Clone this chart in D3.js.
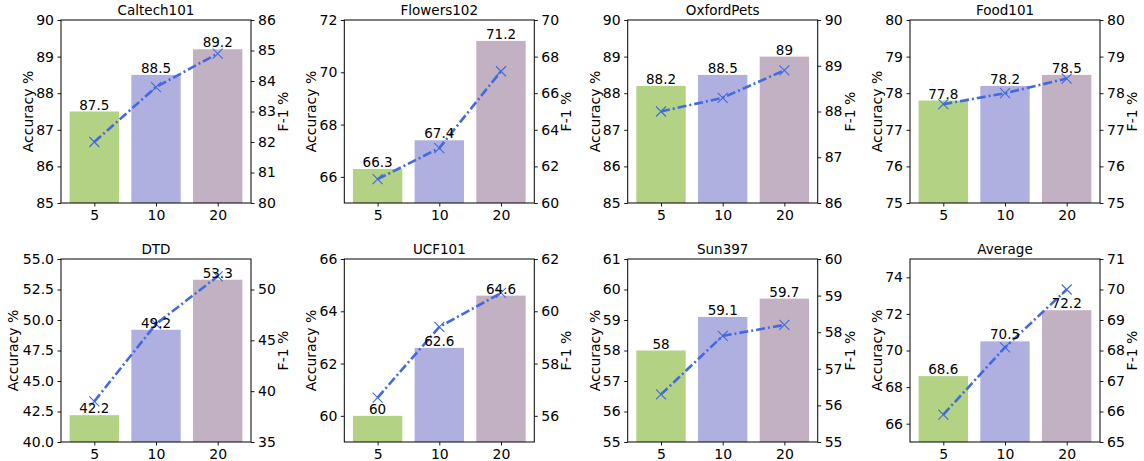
<!DOCTYPE html>
<html>
<head>
<meta charset="utf-8">
<script src="https://cdn.jsdelivr.net/npm/d3@7"></script>
<style>
  body { margin: 0; background: #fff; }
  svg text { font-family: "DejaVu Sans", sans-serif; fill: #000; }
</style>
</head>
<body>
<svg id="chart" width="1144" height="461"></svg>
<script>
const panels = ["Caltech101", "Flowers102", "OxfordPets", "Food101", "DTD", "UCF101", "Sun397", "Average"];
const shots = ["5", "10", "20"];
const accuracy = [
  [87.5, 88.5, 89.2], [66.3, 67.4, 71.2], [88.2, 88.5, 89], [77.8, 78.2, 78.5],
  [42.2, 49.2, 53.3], [60, 62.6, 64.6], [58, 59.1, 59.7], [68.6, 70.5, 72.2]
];
const f1 = [
  [82.0, 83.8, 84.9], [61.3, 63.0, 67.2], [88.0, 88.3, 88.9], [77.7, 78.0, 78.4],
  [39.0, 46.6, 51.3], [56.7, 59.4, 60.7], [56.3, 57.9, 58.2], [65.9, 68.1, 70.0]
];
const accRange = [[85, 90], [65, 72], [85, 90], [75, 80], [40, 55], [59, 66], [55, 61], [65, 75]];
const f1Range = [[80, 86], [60, 70], [86, 90], [75, 80], [35, 53], [55, 62], [55, 60], [65, 71]];
const accTicks = [
  [85, 86, 87, 88, 89, 90], [66, 68, 70, 72], [85, 86, 87, 88, 89, 90], [75, 76, 77, 78, 79, 80],
  [40, 42.5, 45, 47.5, 50, 52.5, 55], [60, 62, 64, 66], [55, 56, 57, 58, 59, 60, 61], [66, 68, 70, 72, 74]
];
const f1Ticks = [
  [80, 81, 82, 83, 84, 85, 86], [60, 62, 64, 66, 68, 70], [86, 87, 88, 89, 90], [75, 76, 77, 78, 79, 80],
  [35, 40, 45, 50], [56, 58, 60, 62], [55, 56, 57, 58, 59, 60], [65, 66, 67, 68, 69, 70, 71]
];
const barColors = ["#b3d283", "#b0b0e0", "#c1b1c2"];

// axes rectangles (tight layout of the original figure)
const colLeft = [61, 344.3, 627.7, 910];
const rowTop = [20, 259];
const W = 190, H = 183;

const svg = d3.select("#chart");

function fmt(ticks) {
  return ticks.some(t => t % 1 != 0) ? d3.format(".1f") : d3.format("d");
}

panels.forEach((name, k) => {
  const left = colLeft[k % 4], top = rowTop[Math.floor(k / 4)];
  const g = svg.append("g").attr("transform", `translate(${left},${top})`);

  const x = d3.scaleLinear().domain([-0.54, 2.54]).range([0, W]);
  const y = d3.scaleLinear().domain(accRange[k]).range([H, 0]);
  const y2 = d3.scaleLinear().domain(f1Range[k]).range([H, 0]);

  const clip = "clip" + k;
  g.append("clipPath").attr("id", clip)
    .append("rect").attr("width", W).attr("height", H);
  const plot = g.append("g").attr("clip-path", `url(#${clip})`);

  // bars
  plot.selectAll("rect")
    .data(accuracy[k]).enter()
    .append("rect")
    .attr("x", (d, i) => x(i - 0.4))
    .attr("width", x(0.4) - x(-0.4))
    .attr("y", d => y(d))
    .attr("height", d => H - y(d))
    .attr("fill", (d, i) => barColors[i]);

  // F-1 line
  const line = d3.line()
    .x((d, i) => x(i))
    .y(d => y2(d));
  plot.append("path")
    .attr("d", line(f1[k]))
    .attr("fill", "none")
    .attr("stroke", "#4169e1")
    .attr("stroke-width", 2.6)
    .attr("stroke-dasharray", "9,3,2,3");

  const m = 5;
  g.selectAll("path.marker")
    .data(f1[k]).enter()
    .append("path")
    .attr("class", "marker")
    .attr("d", (d, i) => {
      const cx = x(i), cy = y2(d);
      return `M${cx - m},${cy - m}L${cx + m},${cy + m}M${cx - m},${cy + m}L${cx + m},${cy - m}`;
    })
    .attr("stroke", "#4169e1")
    .attr("stroke-width", 1.1)
    .attr("fill", "none");

  // value labels
  g.selectAll("text.value")
    .data(accuracy[k]).enter()
    .append("text")
    .attr("class", "value")
    .attr("x", (d, i) => x(i))
    .attr("y", d => y(d) - 2)
    .attr("text-anchor", "middle")
    .style("font-size", "13.5px")
    .text(d => String(d));

  // axes
  const fl = fmt(accTicks[k]), fr = fmt(f1Ticks[k]);
  const axL = g.append("g")
    .call(d3.axisLeft(y).tickValues(accTicks[k]).tickFormat(fl).tickSize(3.5).tickPadding(3.5));
  const axR = g.append("g").attr("transform", `translate(${W},0)`)
    .call(d3.axisRight(y2).tickValues(f1Ticks[k]).tickFormat(fr).tickSize(3.5).tickPadding(3.5));
  const axB = g.append("g").attr("transform", `translate(0,${H})`)
    .call(d3.axisBottom(x).tickValues([0, 1, 2]).tickFormat(i => shots[i]).tickSize(3.5).tickPadding(3.5));
  [axL, axR, axB].forEach(a => {
    a.select(".domain").remove();
    a.selectAll("text").style("font-size", "14px").attr("fill", "#000");
    a.selectAll("line").attr("stroke", "#000").attr("stroke-width", 0.9);
  });

  g.append("rect")
    .attr("width", W).attr("height", H)
    .attr("fill", "none").attr("stroke", "#000").attr("stroke-width", 1);

  // title and axis labels
  g.append("text")
    .attr("x", W / 2).attr("y", -5)
    .attr("text-anchor", "middle")
    .style("font-size", "13.5px")
    .text(name);

  const maxL = d3.max(accTicks[k], t => fl(t).length);
  const offL = maxL > 2 ? 48 : 33;
  g.append("text")
    .attr("transform", `translate(${-offL},${H / 2}) rotate(-90)`)
    .attr("text-anchor", "middle")
    .attr("dy", "0.35em")
    .style("font-size", "14px")
    .text("Accuracy %");

  g.append("text")
    .attr("transform", `translate(${W + 32},${H / 2}) rotate(-90)`)
    .attr("text-anchor", "middle")
    .attr("dy", "0.35em")
    .style("font-size", "14px")
    .text("F-1 %");
});
</script>
</body>
</html>
